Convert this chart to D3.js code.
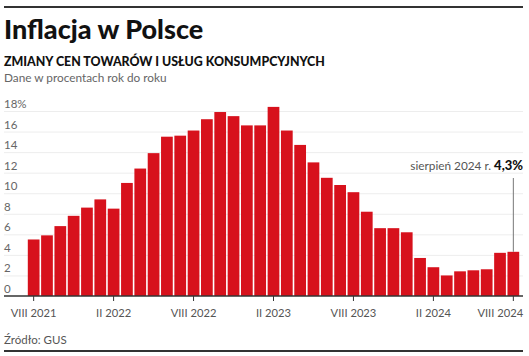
<!DOCTYPE html>
<html><head><meta charset="utf-8">
<script src="https://cdn.jsdelivr.net/npm/d3@7"></script>
<style>
body{margin:0;background:#fff;}
svg{display:block;font-family:Lato,"Noto Sans",sans-serif;}
</style></head>
<body><svg id="c" width="529" height="356"></svg>
<script>
const months = ["2021-08","2021-09","2021-10","2021-11","2021-12",
"2022-01","2022-02","2022-03","2022-04","2022-05","2022-06","2022-07","2022-08","2022-09","2022-10","2022-11","2022-12",
"2023-01","2023-02","2023-03","2023-04","2023-05","2023-06","2023-07","2023-08","2023-09","2023-10","2023-11","2023-12",
"2024-01","2024-02","2024-03","2024-04","2024-05","2024-06","2024-07","2024-08"];
const inflation = [5.5,5.9,6.8,7.8,8.6,
9.4,8.5,11.0,12.4,13.9,15.5,15.6,16.1,17.2,17.9,17.5,16.6,
16.6,18.4,16.1,14.7,13.0,11.5,10.8,10.1,8.2,6.6,6.6,6.2,
3.7,2.8,2.0,2.4,2.5,2.6,4.2,4.3];
const xTickMonths = ["2021-08","2022-02","2022-08","2023-02","2023-08","2024-02","2024-08"];
const xTickLabels = ["VIII 2021","II 2022","VIII 2022","II 2023","VIII 2023","II 2024","VIII 2024"];
const yTicks = [0,2,4,6,8,10,12,14,16,18];

const svg = d3.select("#c");
const x = d3.scaleBand().domain(months).range([27,520]).paddingInner(0.12).paddingOuter(0.06);
const y = d3.scaleLinear().domain([0,18]).range([296,111]);

// rules
svg.append("line").attr("x1",4).attr("x2",523).attr("y1",7).attr("y2",7).attr("stroke","#333").attr("stroke-width",2);
svg.append("line").attr("x1",4).attr("x2",523).attr("y1",351).attr("y2",351).attr("stroke","#333").attr("stroke-width",2);

// titles
svg.append("text").attr("x",4).attr("y",39).attr("font-size",27).attr("font-weight",900).attr("fill","#111").text("Inflacja w Polsce");
svg.append("text").attr("x",4).attr("y",66).attr("font-size",12.4).attr("font-weight",900).attr("fill","#111").text("ZMIANY CEN TOWARÓW I USŁUG KONSUMPCYJNYCH");
svg.append("text").attr("x",4).attr("y",82).attr("font-size",11.8).attr("fill","#666").text("Dane w procentach rok do roku");

// grid + y labels
svg.append("g").selectAll("line").data(yTicks.filter(d=>d>0)).join("line")
  .attr("x1",4).attr("x2",523).attr("y1",d=>y(d)+0.5).attr("y2",d=>y(d)+0.5)
  .attr("stroke","#ededed").attr("stroke-width",1);
svg.append("g").selectAll("text").data(yTicks).join("text")
  .attr("x",4).attr("y",d=>y(d)-3).attr("font-size",11.5).attr("fill","#666")
  .text(d=>d===18?d+"%":d);

// bars
svg.append("g").selectAll("rect").data(inflation).join("rect")
  .attr("x",(d,i)=>x(months[i])).attr("width",x.bandwidth())
  .attr("y",d=>y(d)).attr("height",d=>y(0)-y(d)).attr("fill","#d7111c");

// x axis
const xa = svg.append("g").attr("transform","translate(0,296)")
  .call(d3.axisBottom(x).tickValues(xTickMonths).tickSize(5).tickPadding(8)
    .tickFormat(d=>xTickLabels[xTickMonths.indexOf(d)]));
xa.select(".domain").remove();
xa.selectAll(".tick line").attr("stroke","#333");
xa.selectAll(".tick text").attr("font-size",11.2).attr("fill","#555").attr("font-family","Lato,sans-serif");
xa.selectAll(".tick").filter(d=>d==="2024-08").select("text").attr("text-anchor","end").attr("dx",(x.bandwidth()/2+4)+"px");
svg.append("line").attr("x1",4).attr("x2",523).attr("y1",296).attr("y2",296).attr("stroke","#333").attr("stroke-width",1.5);

// annotation
const last = months[months.length-1];
const lx = x(last)+x.bandwidth()/2;
svg.append("line").attr("x1",lx).attr("x2",lx).attr("y1",178).attr("y2",y(inflation[inflation.length-1])).attr("stroke","#777").attr("stroke-width",1);
const at = svg.append("text").attr("x",523).attr("y",170).attr("text-anchor","end");
at.append("tspan").attr("font-size",11.8).attr("fill","#555").text("sierpień 2024 r. ");
at.append("tspan").attr("font-size",13).attr("font-weight",900).attr("fill","#111").text("4,3%");

// source
svg.append("text").attr("x",4).attr("y",344).attr("font-size",11.5).attr("fill","#555").text("Źródło: GUS");
</script></body></html>
